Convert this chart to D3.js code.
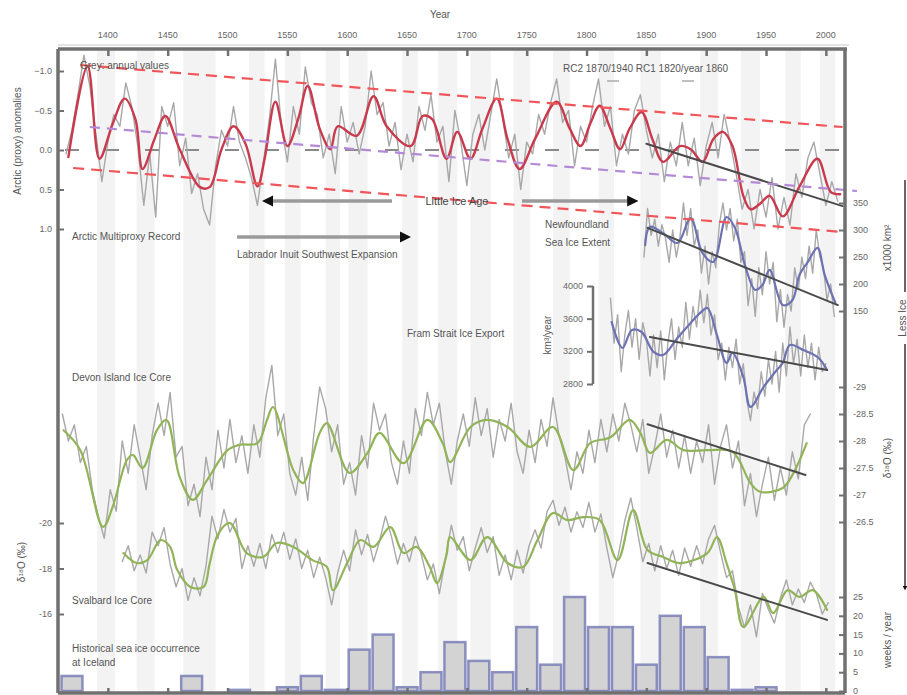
<!DOCTYPE html>
<html>
<head>
<meta charset="utf-8">
<script src="https://cdn.jsdelivr.net/npm/d3@7/dist/d3.min.js"></script>
<style>
  html, body { margin: 0; padding: 0; background: #fff; }
  svg { display: block; font-family: "Liberation Sans", Arial, sans-serif; }
  .lbl { fill: #555; font-size: 10px; }
  .tick { fill: #666; font-size: 9px; }
</style>
</head>
<body>
<svg id="chart" width="907" height="695"></svg>
<script>
// ---------- data ----------
const yearTicks = [1400, 1450, 1500, 1550, 1600, 1650, 1700, 1750, 1800, 1850, 1900, 1950, 2000];

// shaded periods (start, end years)
const bandStart = [1391, 1424, 1463, 1518, 1548, 1582, 1601, 1646, 1676, 1703, 1739, 1772, 1810, 1845, 1895, 1929, 1966, 1995];
const bandEnd   = [1406, 1439, 1490, 1531, 1561, 1594, 1617, 1659, 1692, 1720, 1753, 1786, 1823, 1862, 1910, 1945, 1979, 2008];

// Arctic multiproxy record: smoothed curve
const redYears = [1367,1383,1393,1404,1414,1423,1429,1439,1448,1460,1477,1485,1495,1505,1515,1525,1531,1540,1550,1559,1567,1577,1586,1592,1608,1622,1633,1653,1663,1671,1683,1692,1703,1713,1725,1734,1744,1757,1775,1786,1795,1803,1811,1820,1828,1836,1846,1855,1864,1878,1887,1897,1906,1914,1922,1931,1937,1945,1953,1964,1978,1993,2004,2012];
const redSmooth = [0.09,-1.06,0.11,-0.33,-0.65,-0.39,0.24,-0.14,-0.43,-0.01,0.47,0.47,-0.01,-0.30,-0.08,0.46,0.11,-0.61,-0.05,-0.39,-0.81,-0.27,-0.01,-0.30,-0.18,-0.68,-0.30,-0.05,-0.43,-0.39,0.11,-0.23,0.11,-0.27,-0.65,-0.14,0.24,-0.14,-0.61,-0.27,-0.05,-0.33,-0.56,-0.27,-0.01,-0.27,-0.48,-0.14,0.15,-0.05,-0.01,0.15,-0.14,-0.23,-0.05,0.58,0.75,0.68,0.58,0.84,0.46,0.11,0.53,0.56];
// Arctic multiproxy record: 5-year values from 1365
const redGreyStart = 1365, redGreyStep = 5;
const redGrey = [0.05,-0.25,-0.7,-1.2,-0.8,-0.2,0.4,-0.1,-0.45,-0.3,-0.85,-0.55,-0.05,0.7,0.05,0.85,-0.55,-0.3,-0.6,0.2,-0.15,0.55,0.3,0.75,0.95,0.2,-0.25,-0.05,-0.55,-0.1,0.1,0.35,0.7,0.15,-0.4,-1.15,-0.3,0.15,-0.55,-0.2,-1.05,-0.6,-0.45,0.1,-0.2,0.3,-0.55,-0.1,-0.35,0.05,-0.3,-1.0,-0.45,-0.6,-0.05,-0.35,0.25,-0.2,0.15,-0.55,-0.25,-0.7,-0.1,-0.3,0.4,-0.5,-0.1,0.45,-0.2,-0.45,0.0,-0.45,-0.9,-0.4,0.1,-0.2,0.5,-0.1,0.05,-0.45,-0.2,-0.6,-0.9,-0.35,-0.5,0.2,-0.3,-0.1,-0.55,-0.9,-0.3,-0.55,0.2,-0.2,0.05,-0.5,-0.7,-0.25,0.1,-0.2,0.4,-0.1,0.2,-0.35,0.2,-0.15,0.45,-0.05,-0.35,0.1,-0.45,-0.1,0.3,0.75,0.5,1.0,0.5,0.85,0.35,1.0,0.6,0.95,0.3,0.6,0.1,-0.1,0.3,0.7,0.4,0.65];
const redTicks = [-1, -0.5, 0, 0.5, 1];
// envelope and trend lines: [year, value] end points
const redUpper  = [[1377, -1.076], [2014, -0.291]];
const redLower  = [[1371, 0.228], [2014, 1.038]];
const purpleFit = [[1385, -0.291], [2026, 0.519]];
const redTrend  = [[1850, -0.08], [2014, 0.71]];

// Newfoundland sea ice extent (x1000 km²)
const nfYears  = [1849,1853,1864,1876,1887,1897,1906,1917,1924,1933,1941,1947,1953,1964,1972,1978,1985,1993,1999,2008];
const nfSmooth = [272,306,294,276,322,257,241,324,304,230,189,198,226,161,170,217,241,267,217,165];
const nfGreyStart = 1848, nfGreyStep = 3;
const nfGrey = [250,340,290,320,270,310,285,240,300,250,285,350,290,340,270,300,220,270,200,260,230,310,350,300,340,280,320,240,260,160,210,140,230,180,260,200,240,130,190,120,180,150,230,190,250,210,270,220,300,250,230,170,200,140];
const nfTicks = [350, 300, 250, 200, 150];
const nfTrend = [[1851, 304], [2010, 161]];

// Fram Strait ice export (km³/year)
const framYears  = [1821,1830,1838,1846,1856,1864,1876,1887,1895,1901,1909,1917,1922,1931,1937,1948,1959,1964,1970,1981,1993,2001];
const framSmooth = [3559,3241,3461,3437,3192,3155,3364,3547,3670,3731,3400,3058,3180,2886,2519,2764,2972,3058,3278,3217,3131,2972];
const framGreyStart = 1820, framGreyStep = 3;
const framGrey = [3850,3300,3650,2950,3400,3700,3250,3600,3100,3550,3350,2900,3400,3000,3450,2850,3300,3600,3100,3500,3250,3800,3350,3750,3500,3950,3550,3900,3400,3650,3100,3300,2850,3250,3000,3350,2800,3050,2600,2350,2700,2500,2950,2650,3100,2800,3200,2700,3300,2900,3500,3050,3350,2900,3400,3000,3300,2850,3250,2950,3050];
const framTicks = [4000, 3600, 3200, 2800];
const framTrend = [[1853, 3376], [2001, 2972]];

// Devon Island ice core δ18O (‰)
const devYears  = [1363,1377,1396,1404,1416,1421,1429,1441,1449,1460,1471,1483,1500,1510,1525,1533,1538,1555,1563,1577,1583,1602,1617,1627,1647,1667,1680,1686,1703,1717,1734,1753,1772,1789,1803,1820,1836,1845,1853,1867,1881,1901,1922,1937,1945,1964,1973,1984];
const devSmooth = [-28.20,-27.83,-26.41,-26.78,-27.65,-27.74,-27.50,-28.20,-28.39,-27.33,-26.91,-27.28,-27.83,-27.93,-27.96,-28.39,-28.63,-27.46,-27.22,-28.15,-28.33,-27.41,-27.78,-28.15,-27.59,-28.39,-27.95,-27.61,-28.26,-28.39,-28.26,-27.89,-28.26,-27.46,-27.96,-28.07,-28.39,-28.15,-27.78,-28.02,-27.83,-27.83,-27.80,-27.22,-27.06,-27.13,-27.41,-27.96];
const devGreyStart = 1362, devGreyStep = 5;
const devGrey = [-28.5,-28.0,-28.3,-27.6,-27.9,-27.1,-26.6,-26.2,-27.1,-26.7,-28.0,-27.4,-28.3,-27.7,-27.1,-28.1,-28.7,-28.1,-28.9,-27.7,-27.9,-26.8,-27.2,-26.6,-27.7,-27.1,-28.2,-27.5,-28.4,-27.6,-28.1,-27.4,-28.3,-27.7,-28.8,-29.4,-28.1,-28.5,-27.4,-27.0,-27.7,-26.9,-28.1,-29.0,-28.6,-27.8,-28.3,-27.2,-27.6,-27.0,-28.1,-27.5,-28.7,-28.2,-28.5,-27.6,-27.2,-28.0,-27.4,-28.6,-28.1,-28.9,-28.3,-28.7,-27.8,-27.2,-28.0,-28.5,-27.9,-28.8,-28.1,-28.6,-27.7,-28.4,-28.0,-28.7,-27.8,-27.4,-28.2,-27.6,-28.4,-27.9,-28.8,-28.1,-27.7,-27.1,-27.8,-27.4,-28.2,-27.6,-28.4,-27.8,-28.5,-28.0,-28.7,-28.3,-27.8,-28.4,-27.4,-27.9,-28.5,-27.7,-28.2,-27.5,-28.1,-27.4,-28.0,-27.6,-28.3,-27.2,-27.9,-28.3,-27.5,-28.0,-26.8,-27.4,-26.6,-27.2,-27.7,-26.9,-27.5,-27.0,-27.8,-27.3,-28.3,-28.5];
const devTicks = [-29, -28.5, -28, -27.5, -27, -26.5];
const devTrend = [[1851, -28.31], [1983, -27.37]];

// Svalbard ice core δ18O (‰)
const svYears  = [1413,1424,1433,1444,1452,1458,1469,1480,1485,1492,1502,1516,1530,1541,1555,1571,1583,1588,1600,1611,1622,1636,1647,1658,1669,1675,1683,1686,1703,1717,1734,1747,1759,1772,1784,1797,1811,1826,1839,1851,1864,1878,1901,1909,1917,1924,1931,1948,1956,1968,1978,1989,2001];
const svSmooth = [-18.68,-18.24,-18.37,-19.25,-18.95,-17.93,-17.19,-17.19,-18.2,-19.5,-20.0,-18.68,-18.51,-19.12,-18.95,-18.37,-18.07,-17.05,-18.24,-19.25,-18.95,-19.82,-18.68,-18.95,-18.07,-17.36,-18.6,-19.38,-18.37,-19.38,-18.24,-18.07,-19.25,-20.44,-20.13,-20.26,-20.13,-18.37,-20.57,-18.81,-18.51,-18.24,-18.68,-19.38,-18.24,-17.05,-15.43,-16.75,-16.04,-17.05,-16.75,-17.05,-16.18];
const svGreyStart = 1412, svGreyStep = 5;
const svGrey = [-18.3,-19.0,-17.9,-18.6,-17.8,-19.6,-19.0,-19.8,-18.2,-17.2,-18.0,-16.6,-17.6,-16.8,-18.1,-20.3,-19.3,-20.6,-19.6,-20.2,-18.0,-19.0,-18.1,-19.1,-18.0,-19.5,-18.7,-19.6,-18.4,-19.3,-18.0,-18.8,-17.6,-18.5,-17.6,-16.4,-17.8,-18.8,-17.9,-19.7,-18.6,-19.5,-18.3,-19.2,-20.3,-19.4,-18.2,-19.1,-18.3,-19.4,-18.6,-17.5,-18.2,-16.9,-18.4,-19.9,-18.8,-19.4,-17.9,-18.9,-19.8,-18.7,-19.4,-17.7,-18.6,-17.5,-18.8,-17.8,-19.0,-19.7,-18.9,-20.5,-21.0,-19.9,-20.7,-19.6,-20.5,-19.8,-20.9,-19.6,-20.4,-18.9,-17.6,-18.7,-20.1,-21.1,-19.8,-18.3,-19.1,-17.9,-19.0,-18.0,-18.8,-17.7,-18.9,-18.1,-19.0,-18.2,-19.3,-19.9,-18.7,-17.6,-17.9,-16.3,-15.4,-16.4,-15.0,-16.9,-16.2,-15.6,-16.7,-17.5,-16.4,-17.1,-16.5,-17.4,-16.9,-16.0,-16.5];
const svTicks = [-20, -18, -16];
const svTrend = [[1851, -18.24], [2001, -15.74]];

// Historical sea ice occurrence at Iceland (weeks / year), 20-year bins
const iceBinStart = [1360,1460,1500,1540,1560,1580,1600,1620,1640,1660,1680,1700,1720,1740,1760,1780,1800,1820,1840,1860,1880,1900,1920,1940];
const iceWeeks    = [4,4,0.3,1,4,0.3,11,15,1,5,13,8,5,17,7,25,17,17,7,20,17,9,0.3,1];
const iceBinWidth = 20;
const iceTicks = [0, 5, 10, 15, 20, 25];

// period arrows
const liaSpan = [1530, 1842];
const inuitSpan = [1508, 1652];

// ---------- scales ----------
const svg = d3.select("#chart");
const L = 58, R = 845, T = 49, B = 693;
const x = d3.scaleLinear().domain([1360, 2016]).range([60, 845]);
const yRed  = d3.scaleLinear().domain([-1, 1]).range([71, 229]);
const yNf   = d3.scaleLinear().domain([350, 150]).range([203, 311]);
const yFram = d3.scaleLinear().domain([4000, 2800]).range([286, 384]);
const yDev  = d3.scaleLinear().domain([-29, -26.5]).range([387, 522]);
const ySv   = d3.scaleLinear().domain([-20, -16]).range([523, 614]);
const yIce  = d3.scaleLinear().domain([0, 25]).range([691, 597]);

const pairs = (years, vals) => years.map((yr, i) => [yr, vals[i]]);
const stepped = (start, step, vals) => vals.map((v, i) => [start + i * step, v]);

// ---------- background bands ----------
svg.append("g").selectAll("rect").data(d3.zip(bandStart, bandEnd)).join("rect")
  .attr("x", d => x(d[0])).attr("width", d => x(d[1]) - x(d[0]))
  .attr("y", T).attr("height", B - T).attr("fill", "#f3f3f3");

// zero line of the multiproxy panel
svg.append("line").attr("x1", 65).attr("x2", R).attr("y1", yRed(0)).attr("y2", yRed(0))
  .attr("stroke", "#8a8a8a").attr("stroke-width", 2).attr("stroke-dasharray", "14,26");

// ---------- bars ----------
svg.append("g").selectAll("rect").data(d3.zip(iceBinStart, iceWeeks)).join("rect")
  .attr("x", d => x(d[0]) + 1.5).attr("width", d => x(d[0] + iceBinWidth) - x(d[0]) - 3)
  .attr("y", d => yIce(d[1])).attr("height", d => yIce(0) - yIce(d[1]))
  .attr("fill", "#d3d3d3").attr("stroke", "#7a7fb8").attr("stroke-width", 2.5).attr("stroke-opacity", 0.85);

// ---------- lines ----------
function drawLine(data, yScale, color, width, curve) {
  svg.append("path").datum(data)
    .attr("d", d3.line().x(d => x(d[0])).y(d => yScale(d[1])).curve(curve || d3.curveLinear))
    .attr("fill", "none").attr("stroke", color).attr("stroke-width", width)
    .attr("stroke-linejoin", "round").attr("stroke-linecap", "round");
}
const smooth = d3.curveCatmullRom.alpha(0.5);
const grey = "#a8a8a8";

drawLine(stepped(redGreyStart, redGreyStep, redGrey), yRed, grey, 1.4);
drawLine(stepped(nfGreyStart, nfGreyStep, nfGrey), yNf, grey, 1.4);
drawLine(stepped(framGreyStart, framGreyStep, framGrey), yFram, grey, 1.4);
drawLine(stepped(devGreyStart, devGreyStep, devGrey), yDev, grey, 1.4);
drawLine(stepped(svGreyStart, svGreyStep, svGrey), ySv, grey, 1.4);

drawLine(pairs(redYears, redSmooth), yRed, "#c93a4c", 2.4, smooth);
drawLine(pairs(nfYears, nfSmooth), yNf, "#6c72b2", 2.2, smooth);
drawLine(pairs(framYears, framSmooth), yFram, "#6c72b2", 2.2, smooth);
drawLine(pairs(devYears, devSmooth), yDev, "#92b458", 2.2, smooth);
drawLine(pairs(svYears, svSmooth), ySv, "#92b458", 2.2, smooth);

// trend lines
[[redTrend, yRed], [nfTrend, yNf], [framTrend, yFram], [devTrend, yDev], [svTrend, ySv]]
  .forEach(([seg, sc]) => drawLine(seg, sc, "#4a4a4a", 2));

// envelope lines of the multiproxy record
function dashed(seg, color, dash) {
  svg.append("line")
    .attr("x1", x(seg[0][0])).attr("y1", yRed(seg[0][1]))
    .attr("x2", x(seg[1][0])).attr("y2", yRed(seg[1][1]))
    .attr("stroke", color).attr("stroke-width", 2.2).attr("stroke-dasharray", dash);
}
dashed(redUpper, "#f0555a", "11,7");
dashed(redLower, "#f0555a", "11,7");
dashed(purpleFit, "#b48ad6", "10,7");

// ---------- period arrows ----------
const defs = svg.append("defs");
["start", "end"].forEach(k => {
  defs.append("marker").attr("id", "head-" + k).attr("viewBox", "0 0 10 10")
    .attr("refX", 5).attr("refY", 5).attr("markerWidth", 3.2).attr("markerHeight", 3.2)
    .attr("orient", k === "end" ? "auto" : "auto-start-reverse")
    .append("path").attr("d", "M0,0 L10,5 L0,10 Z").attr("fill", "#111");
});
const liaY = 201;
svg.append("line").attr("x1", x(liaSpan[0]) + 4).attr("x2", 392).attr("y1", liaY).attr("y2", liaY)
  .attr("stroke", "#9a9a9a").attr("stroke-width", 3.5).attr("marker-start", "url(#head-start)");
svg.append("line").attr("x1", 522).attr("x2", x(liaSpan[1]) - 4).attr("y1", liaY).attr("y2", liaY)
  .attr("stroke", "#9a9a9a").attr("stroke-width", 3.5).attr("marker-end", "url(#head-end)");
svg.append("text").attr("x", 457).attr("y", liaY + 4).attr("text-anchor", "middle")
  .attr("fill", "#444").attr("font-size", 11).text("Little Ice Age");

const inuY = 237;
svg.append("line").attr("x1", x(inuitSpan[0])).attr("x2", x(inuitSpan[1]) - 4).attr("y1", inuY).attr("y2", inuY)
  .attr("stroke", "#9a9a9a").attr("stroke-width", 3.5).attr("marker-end", "url(#head-end)");

// ---------- frame and axes ----------
const frame = svg.append("g").attr("stroke", "#707070").attr("stroke-width", 3.5);
frame.append("line").attr("x1", L).attr("x2", R + 2).attr("y1", T).attr("y2", T);
frame.append("line").attr("x1", L).attr("x2", L).attr("y1", T).attr("y2", B);
frame.append("line").attr("x1", R).attr("x2", R).attr("y1", T).attr("y2", B);
frame.append("line").attr("x1", L).attr("x2", R).attr("y1", B).attr("y2", B);
svg.append("line").attr("x1", L).attr("x2", R + 4).attr("y1", T - 4).attr("y2", T - 4)
  .attr("stroke", "#e4e4e4").attr("stroke-width", 2);

// top year axis
const topAxis = svg.append("g").attr("transform", `translate(0,${T})`)
  .call(d3.axisBottom(x).tickValues(yearTicks).tickSize(7).tickFormat(""));
topAxis.select(".domain").remove();
topAxis.selectAll(".tick line").attr("stroke", "#707070").attr("stroke-width", 2.5);
svg.append("g").selectAll("text").data(yearTicks).join("text")
  .attr("class", "tick").attr("x", d => x(d)).attr("y", 38).attr("text-anchor", "middle").text(d => d);
svg.append("text").attr("class", "lbl").attr("x", 440).attr("y", 18).attr("text-anchor", "middle").text("Year");

// bottom year ticks
const bottomAxis = svg.append("g").attr("transform", `translate(0,${B})`)
  .call(d3.axisTop(x).tickValues(yearTicks).tickSize(5).tickFormat(""));
bottomAxis.select(".domain").remove();
bottomAxis.selectAll(".tick line").attr("stroke", "#707070").attr("stroke-width", 2.5);

function sideAxis(axisFn, pos, scale, ticks, size) {
  const g = svg.append("g").attr("transform", `translate(${pos},0)`)
    .call(axisFn(scale).tickValues(ticks).tickSize(size || 6).tickFormat(""));
  g.select(".domain").remove();
  g.selectAll(".tick line").attr("stroke", "#707070").attr("stroke-width", 2);
  return g;
}
const f1 = d => d3.format(".1f")(d);
// left axes point inward
sideAxis(d3.axisRight, L, yRed, redTicks, 6);
sideAxis(d3.axisRight, L, ySv, svTicks, 6);
svg.append("g").selectAll("text").data(redTicks).join("text").attr("class", "tick")
  .attr("x", 52).attr("y", d => yRed(d) + 3).attr("text-anchor", "end").text(f1);
svg.append("g").selectAll("text").data(svTicks).join("text").attr("class", "tick")
  .attr("x", 52).attr("y", d => ySv(d) + 3).attr("text-anchor", "end").text(d => d);

// right axes
sideAxis(d3.axisRight, R - 6, yNf, nfTicks, 6);
sideAxis(d3.axisRight, R - 6, yDev, devTicks, 6);
sideAxis(d3.axisRight, R - 6, yIce, iceTicks, 6);
svg.append("g").selectAll("text").data(nfTicks).join("text").attr("class", "tick")
  .attr("x", 853).attr("y", d => yNf(d) + 3).text(d => d);
svg.append("g").selectAll("text").data(devTicks).join("text").attr("class", "tick")
  .attr("x", 853).attr("y", d => yDev(d) + 3).text(d => d);
svg.append("g").selectAll("text").data(iceTicks).join("text").attr("class", "tick")
  .attr("x", 853).attr("y", d => yIce(d) + 3).text(d => d);

// inner axis of the Fram Strait record
const framX = 593;
svg.append("line").attr("x1", framX).attr("x2", framX).attr("y1", yFram(4000)).attr("y2", yFram(2800))
  .attr("stroke", "#707070").attr("stroke-width", 2.5);
sideAxis(d3.axisLeft, framX, yFram, framTicks, 6);
svg.append("g").selectAll("text").data(framTicks).join("text").attr("class", "tick")
  .attr("x", 583).attr("y", d => yFram(d) + 3).attr("text-anchor", "end").text(d => d);

// ---------- text labels ----------
function label(txt, px, py, opts = {}) {
  const t = svg.append("text").attr("class", "lbl").attr("x", px).attr("y", py).text(txt);
  if (opts.size) t.attr("font-size", opts.size);
  if (opts.anchor) t.attr("text-anchor", opts.anchor);
  if (opts.rotate) t.attr("transform", `rotate(-90,${px},${py})`).attr("text-anchor", "middle");
  return t;
}
label("Grey: annual values", 80, 69, { size: 9 });
label("RC2 1870/1940   RC1 1820/year 1860", 563, 72, { size: 9 });
svg.append("g").selectAll("line").data([613, 688]).join("line")
  .attr("x1", d => d - 6).attr("x2", d => d + 6).attr("y1", 81).attr("y2", 81)
  .attr("stroke", "#aaa").attr("stroke-width", 1.5);
label("Arctic Multiproxy Record", 72, 240);
label("Labrador Inuit Southwest Expansion", 237, 258);
label("Newfoundland", 545, 228);
label("Sea Ice Extent", 545, 246);
label("Fram Strait Ice Export", 407, 337);
label("Devon Island Ice Core", 72, 381);
label("Svalbard Ice Core", 72, 604);
label("Historical sea ice occurrence", 72, 652);
label("at Iceland", 72, 666);

label("Arctic (proxy) anomalies", 21, 141, { rotate: true, size: 9 });
label("δ¹⁸O (‰)", 25, 562, { rotate: true, size: 9 });
label("x1000 km²", 891, 248, { rotate: true, size: 9 });
label("km³/year", 551, 335, { rotate: true, size: 9 });
label("δ¹⁸O (‰)", 891, 458, { rotate: true, size: 9 });
label("weeks / year", 891, 640, { rotate: true, size: 9 });

// direction arrow at the far right
svg.append("line").attr("x1", 905).attr("x2", 905).attr("y1", 180).attr("y2", 588)
  .attr("stroke", "#333").attr("stroke-width", 1.5).attr("marker-end", "url(#head-end)");
svg.append("rect").attr("x", 899).attr("y", 292).attr("width", 12).attr("height", 52).attr("fill", "#fff");
label("Less Ice", 906, 318, { rotate: true, size: 9 });
</script>
</body>
</html>
